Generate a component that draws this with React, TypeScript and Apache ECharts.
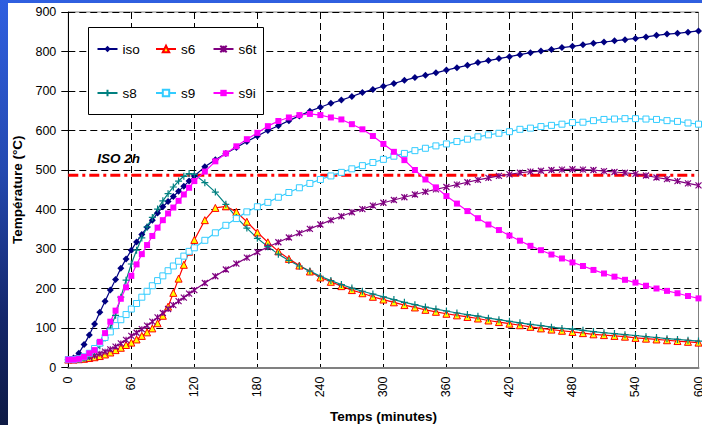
import React, { useEffect, useRef } from "react";
import * as echarts from "echarts";

// Time (minutes): every 5 min up to 120, then every 10 min
const times = [
  0, 5, 10, 15, 20, 25, 30, 35, 40, 45, 50, 55, 60, 65, 70, 75, 80, 85, 90, 95, 100, 105, 110, 115, 120,
  130, 140, 150, 160, 170, 180, 190, 200, 210, 220, 230, 240, 250, 260, 270, 280, 290, 300, 310, 320,
  330, 340, 350, 360, 370, 380, 390, 400, 410, 420, 430, 440, 450, 460, 470, 480, 490, 500, 510, 520,
  530, 540, 550, 560, 570, 580, 590, 600,
];

const iso = [
  20, 24, 36, 58, 82, 110, 140, 168, 196, 223, 251, 275, 297, 318, 337, 355, 373, 391, 407, 420, 433, 446, 459, 472, 485,
  508, 526, 542, 557, 572, 586, 600, 612, 625, 637, 649, 659, 669, 677, 686, 696, 704, 712, 719, 727,
  734, 740, 746, 753, 759, 765, 772, 777, 782, 787, 792, 797, 801, 805, 810, 813, 817, 821, 824, 827,
  830, 833, 837, 841, 844, 846, 849, 852,
];

const s6 = [
  20, 20, 21, 22, 24, 26, 29, 33, 38, 44, 50, 57, 63, 71, 80, 89, 99, 112, 131, 154, 189, 225, 260, 293, 323,
  373, 404, 408, 394, 369, 342, 317, 294, 275, 258, 243, 228, 217, 206, 196, 188, 179, 172, 165, 158,
  152, 146, 141, 136, 132, 128, 124, 119, 115, 111, 107, 103, 99, 96, 93, 90, 87, 84, 82, 80,
  78, 75, 73, 71, 69, 67, 65, 63,
];

const s6t = [
  20, 20, 21, 23, 26, 30, 35, 40, 46, 53, 61, 70, 80, 88, 97, 106, 116, 127, 138, 148, 158, 168, 177, 187, 196,
  214, 231, 248, 263, 278, 292, 305, 317, 329, 340, 351, 362, 373, 383, 393, 401, 410, 417, 424, 431,
  438, 445, 451, 457, 463, 469, 475, 480, 485, 489, 493, 496, 498, 500, 501, 502, 501, 500, 497, 495,
  493, 490, 486, 481, 477, 472, 466, 461,
];

const s8 = [
  20, 20, 21, 24, 30, 40, 55, 75, 100, 132, 178, 221, 262, 297, 328, 356, 380, 401, 422, 440, 457, 472, 484, 491, 489,
  468, 444, 413, 380, 353, 327, 306, 287, 271, 257, 244, 231, 220, 210, 201, 193, 186, 179, 172, 165,
  159, 153, 148, 143, 138, 134, 130, 125, 121, 117, 113, 109, 106, 102, 99, 97, 94, 91, 88, 86,
  83, 81, 78, 76, 73, 71, 69, 67,
];

const s9 = [
  20, 20, 22, 27, 36, 48, 62, 76, 90, 106, 121, 134, 148, 162, 178, 193, 207, 220, 232, 245, 257, 269, 282, 294, 303,
  322, 341, 360, 377, 394, 407, 418, 431, 443, 455, 466, 476, 485, 494, 503, 511, 519, 527, 535, 542,
  549, 555, 561, 566, 572, 578, 584, 589, 593, 597, 603, 606, 610, 613, 616, 620, 621, 625, 628, 629,
  630, 630, 629, 628, 625, 623, 619, 616,
];

const s9i = [
  20, 20, 22, 27, 36, 44, 65, 87, 116, 144, 174, 203, 232, 261, 287, 310, 333, 354, 373, 390, 405, 422, 438, 455, 472,
  496, 522, 542, 560, 578, 594, 611, 624, 633, 639, 642, 639, 633, 628, 616, 603, 586, 566, 546, 525,
  500, 476, 456, 434, 415, 396, 378, 362, 348, 334, 321, 308, 297, 286, 276, 266, 257, 247, 238, 230,
  222, 215, 207, 200, 194, 188, 181, 175,
];

// ISO curve value at 2 hours
const iso2h = 487;
const isoLabel = "ISO 2h";
const isoLabelAt = [48, 530];

// legend layout: 2 rows x 3 columns
const legendRows = [
  ["iso", "s6", "s6t"],
  ["s8", "s9", "s9i"],
];

const xTitle = "Temps (minutes)";
const yTitle = "Température (°C)";

const FONT = "'Liberation Sans', Arial, sans-serif";

const pair = (vals: number[]) => times.map((t, i) => [t, vals[i]]);

const ASTERISK = "path://M0,0L10,10M10,0L0,10M5,0L5,10";
const PLUS = "path://M5,0L5,10M0,5L10,5";

function buildOption() {
  const lineSeries = (
    name: string,
    vals: number[],
    color: string,
    symbol: string,
    symbolSize: number,
    itemStyle: any
  ) => ({
    name,
    type: "line",
    data: pair(vals),
    symbol,
    symbolSize,
    showAllSymbol: true,
    z: 3,
    lineStyle: { color, width: 1.2 },
    itemStyle,
    emphasis: { disabled: true },
  });

  const colLeft = [96.5, 155, 212.5];
  const rowTop = [42, 86];
  const legends: any[] = [];
  legendRows.forEach((row, r) =>
    row.forEach((name, c) =>
      legends.push({
        data: [name],
        left: colLeft[c],
        top: rowTop[r],
        z: 5,
        orient: "horizontal",
        itemWidth: 20,
        itemHeight: 8,
        itemGap: 0,
        padding: 0,
        selectedMode: false,
        textStyle: { color: "#000", fontSize: 13.5, fontFamily: FONT },
      })
    )
  );

  return {
    animation: false,
    backgroundColor: "transparent",
    textStyle: { fontFamily: FONT },
    grid: {
      left: 68.3,
      top: 12,
      right: 3.5,
      bottom: 57.5,
      outerBoundsMode: "none",
      containLabel: false,
      show: true,
      borderColor: "#808080",
      borderWidth: 1,
      backgroundColor: "transparent",
    },
    graphic: [
      {
        type: "rect",
        z: 3,
        shape: { x: 88.5, y: 27.5, width: 175, height: 87 },
        style: { fill: "#fff", stroke: "#000", lineWidth: 1 },
      },
    ],
    legend: legends,
    xAxis: {
      type: "value",
      min: 0,
      max: 600,
      interval: 60,
      name: xTitle,
      nameLocation: "middle",
      nameGap: 42,
      nameTextStyle: { fontWeight: "bold", fontSize: 13.5, color: "#000", fontFamily: FONT },
      axisLine: { show: true, onZero: false, lineStyle: { color: "#808080", width: 2 } },
      axisTick: { show: false },
      axisLabel: { rotate: 90, margin: 9, fontSize: 12.5, color: "#000", fontFamily: FONT },
      splitLine: {
        show: true,
        showMinLine: false,
        showMaxLine: false,
        lineStyle: { color: "#000", width: 1, type: [7, 4] },
      },
    },
    yAxis: {
      type: "value",
      min: 0,
      max: 900,
      interval: 100,
      name: yTitle,
      nameLocation: "middle",
      nameGap: 40,
      nameTextStyle: { fontWeight: "bold", fontSize: 13.5, color: "#000", fontFamily: FONT },
      axisLine: { show: true, lineStyle: { color: "#000", width: 1 } },
      axisTick: { show: true, length: 7, lineStyle: { color: "#000" } },
      axisLabel: { margin: 12, fontSize: 12.5, color: "#000", fontFamily: FONT },
      splitLine: {
        show: true,
        showMinLine: false,
        lineStyle: { color: "#000", width: 1, type: [7, 4] },
      },
    },
    series: [
      {
        name: "ISO 2h",
        type: "line",
        data: [
          [0, iso2h],
          [600, iso2h],
        ],
        showSymbol: false,
        symbol: "none",
        z: 2,
        lineStyle: { color: "#FF0000", width: 3, type: [10, 4, 3, 4] },
        emphasis: { disabled: true },
        markPoint: {
          symbol: "rect",
          symbolSize: 1,
          itemStyle: { color: "transparent" },
          label: {
            show: true,
            position: "inside",
            formatter: isoLabel,
            fontWeight: "bold",
            fontStyle: "italic",
            fontSize: 13.5,
            color: "#000",
            fontFamily: FONT,
          },
          data: [{ coord: isoLabelAt }],
        },
      },
      lineSeries("iso", iso, "#000080", "diamond", 7, { color: "#000080" }),
      lineSeries("s6", s6, "#FF0000", "triangle", 7, {
        color: "#FFFF00",
        borderColor: "#FF0000",
        borderWidth: 1,
      }),
      lineSeries("s6t", s6t, "#800080", ASTERISK, 6, {
        color: "#800080",
        borderColor: "#800080",
        borderWidth: 1.2,
      }),
      lineSeries("s8", s8, "#008080", PLUS, 7, {
        color: "#008080",
        borderColor: "#008080",
        borderWidth: 1.2,
      }),
      lineSeries("s9", s9, "#33CCFF", "rect", 6, {
        color: "#FFFFFF",
        borderColor: "#33CCFF",
        borderWidth: 1,
      }),
      lineSeries("s9i", s9i, "#FF00FF", "rect", 6, { color: "#FF00FF" }),
    ],
  };
}

export default function App() {
  const ref = useRef<HTMLDivElement>(null);
  useEffect(() => {
    if (!ref.current) return;
    const chart = echarts.init(ref.current, null, { renderer: "svg" });
    chart.setOption(buildOption() as any);
    return () => chart.dispose();
  }, []);
  return (
    <div
      style={{
        position: "fixed",
        left: 0,
        top: 0,
        width: 702,
        height: 425,
        overflow: "hidden",
        background: "linear-gradient(to bottom, #2f5fe0 0%, #2449b0 40%, #14266a 75%, #0e1a44 100%)",
      }}
    >
      <div style={{ position: "absolute", left: 8, top: 3, width: 694, height: 422, background: "#fff" }} />
      <div ref={ref} style={{ position: "absolute", left: 0, top: 0, width: 702, height: 425 }} />
    </div>
  );
}
